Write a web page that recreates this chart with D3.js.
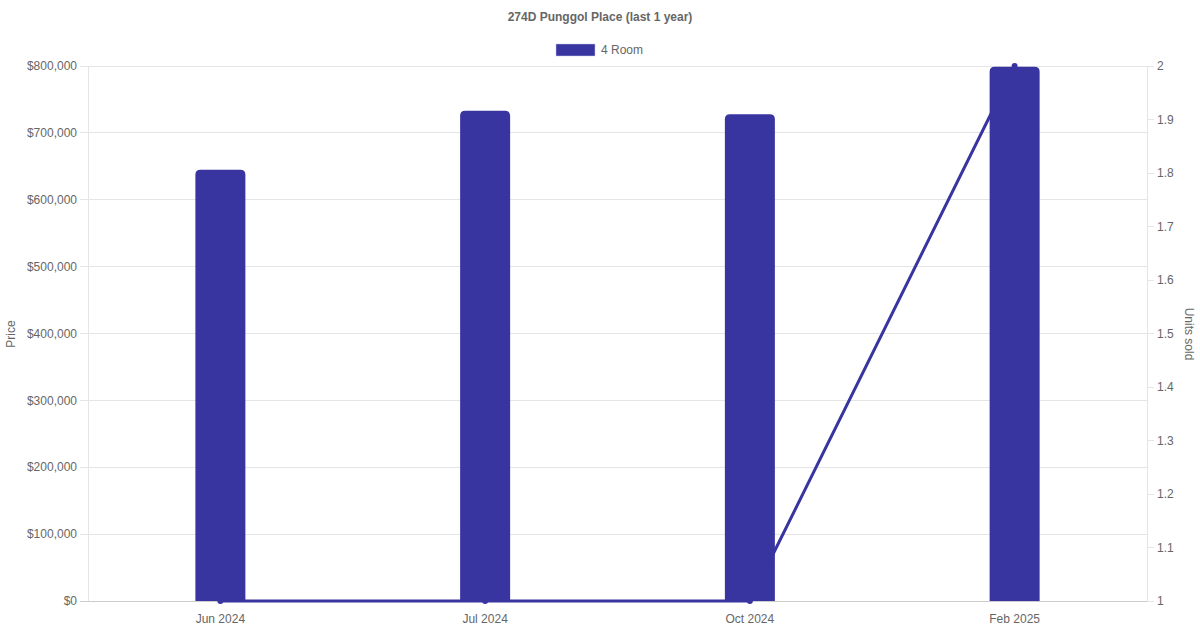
<!DOCTYPE html>
<html><head><meta charset="utf-8">
<script src="https://cdn.jsdelivr.net/npm/d3@7"></script>
<style>body{margin:0;background:#fff}svg{display:block;font-family:"Liberation Sans",Arial,sans-serif}</style>
</head><body><svg id="c" width="1200" height="630"></svg>
<script>
const categories = ["Jun 2024","Jul 2024","Oct 2024","Feb 2025"];
const prices = [645000, 733000, 728000, 799000];
const unitsSold = [1, 1, 1, 2];
const priceTicks = [0,100000,200000,300000,400000,500000,600000,700000,800000];
const unitTicks = [1,1.1,1.2,1.3,1.4,1.5,1.6,1.7,1.8,1.9,2];
const seriesName = "4 Room";
const title = "274D Punggol Place (last 1 year)";

const color = "#3834a0";
const svg = d3.select("#c");
const L=88, R=1147, T=66, B=601;
const x = d3.scaleBand().domain(categories).range([L,R]);
const y = d3.scaleLinear().domain([0,800000]).range([B,T]);
const y2 = d3.scaleLinear().domain([1,2]).range([B,T]);
const fmt = v => "$" + d3.format(",")(v);

// grid
svg.append("g").selectAll("line").data(priceTicks).join("line")
  .attr("x1",L-8).attr("x2",R).attr("y1",d=>y(d)).attr("y2",d=>y(d))
  .attr("stroke",d=>d===0?"#ccc":"#e5e5e5").attr("stroke-width",1).attr("shape-rendering","crispEdges");
svg.append("line").attr("x1",L).attr("x2",L).attr("y1",T).attr("y2",B).attr("stroke","#e5e5e5").attr("shape-rendering","crispEdges");
svg.append("line").attr("x1",R).attr("x2",R).attr("y1",T).attr("y2",B).attr("stroke","#e5e5e5").attr("shape-rendering","crispEdges");
svg.append("g").selectAll("line").data(unitTicks).join("line")
  .attr("x1",R).attr("x2",R+7).attr("y1",d=>y2(d)).attr("y2",d=>y2(d))
  .attr("stroke","#e5e5e5").attr("shape-rendering","crispEdges");

// axis labels
svg.append("g").selectAll("text").data(priceTicks).join("text")
  .attr("x",77).attr("y",d=>y(d)).attr("dy","0.35em").attr("text-anchor","end")
  .attr("font-size",12).attr("fill","#666").text(fmt);
svg.append("g").selectAll("text").data(unitTicks).join("text")
  .attr("x",1157).attr("y",d=>y2(d)).attr("dy","0.35em").attr("text-anchor","start")
  .attr("font-size",12).attr("fill","#666").text(d=>d3.format("~g")(d));
svg.append("g").selectAll("text").data(categories).join("text")
  .attr("x",d=>x(d)+x.bandwidth()/2).attr("y",619).attr("dy","0.35em").attr("text-anchor","middle")
  .attr("font-size",12).attr("fill","#666").text(d=>d);

svg.append("text").attr("transform","translate(15,334) rotate(-90)").attr("text-anchor","middle")
  .attr("font-size",12).attr("fill","#666").text("Price");
svg.append("text").attr("transform","translate(1185,334) rotate(90)").attr("text-anchor","middle")
  .attr("font-size",12).attr("fill","#666").text("Units sold");

// title & legend
svg.append("text").attr("x",600).attr("y",17).attr("dy","0.35em").attr("text-anchor","middle")
  .attr("font-size",12).attr("font-weight","bold").attr("fill","#666").text(title);
svg.append("rect").attr("x",556).attr("y",44).attr("width",39).attr("height",12).attr("fill",color)
  .attr("stroke","#c8c8e8").attr("stroke-width",0.5);
svg.append("text").attr("x",601).attr("y",50).attr("dy","0.35em").attr("font-size",12).attr("fill","#666").text(seriesName);

// bars with rounded tops
const bw = 50, r = 5;
function barPath(cx, top, bot){
  const x0=cx-bw/2, x1=cx+bw/2;
  return `M${x0},${bot}V${top+r}Q${x0},${top} ${x0+r},${top}H${x1-r}Q${x1},${top} ${x1},${top+r}V${bot}Z`;
}
svg.append("g").selectAll("path").data(categories).join("path")
  .attr("d",(d,i)=>barPath(x(d)+x.bandwidth()/2, y(prices[i]), B))
  .attr("fill",color);

// line
const line = d3.line().x((d,i)=>x(categories[i])+x.bandwidth()/2).y(d=>y2(d));
svg.append("path").datum(unitsSold).attr("d",line).attr("fill","none").attr("stroke",color).attr("stroke-width",3);
svg.append("g").selectAll("circle").data(unitsSold).join("circle")
  .attr("cx",(d,i)=>x(categories[i])+x.bandwidth()/2).attr("cy",d=>y2(d)).attr("r",3).attr("fill",color);
</script></body></html>
